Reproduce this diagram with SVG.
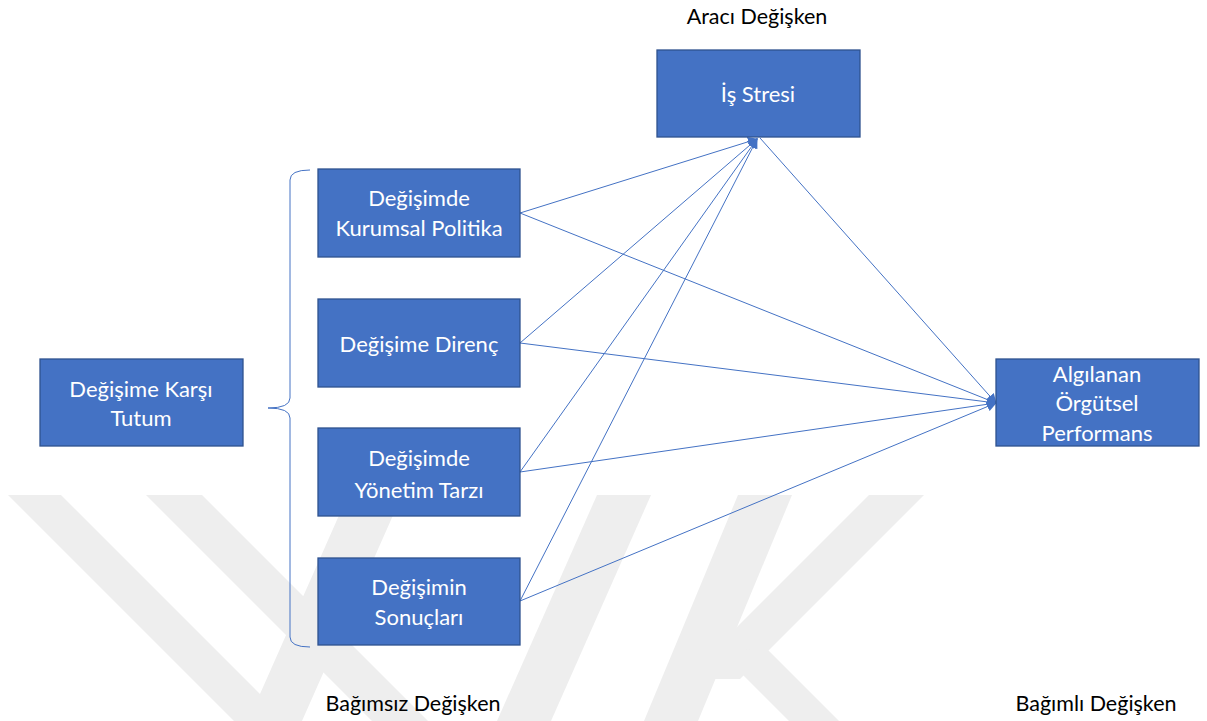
<svg xmlns="http://www.w3.org/2000/svg" width="1207" height="721" viewBox="0 0 1207 721">
<style>
.box{fill:#4472C4;stroke:#2F528F;stroke-width:1.3}
.bt{font-family:Lato,"Liberation Sans",sans-serif;font-size:22px;fill:#ffffff;text-anchor:middle}
.lbl{font-family:Lato,"Liberation Sans",sans-serif;font-size:21.5px;fill:#000000;text-anchor:middle}
.con{stroke:#4472C4;stroke-width:1;fill:none}
.wm{fill:#eeeeee}
</style>
<defs>
<marker id="ah" markerUnits="userSpaceOnUse" markerWidth="10" markerHeight="10" viewBox="0 0 10 10" refX="9" refY="5" orient="auto">
<path d="M0,0 L10,5 L0,10 z" fill="#4472C4"/>
</marker>
</defs>
<rect width="1207" height="721" fill="#ffffff"/>
<g id="watermark">
<polygon class="wm" points="8,495 61,495 260,694 348,495 402,495 302,721 234,721"/>
<polygon class="wm" points="146,495 202,495 428,721 372,721"/>
<polygon class="wm" points="597,495 651,495 551,721 497,721"/>
<polygon class="wm" points="738,495 792,495 698,721 644,721"/>
<polygon class="wm" points="869,495 924,495 740,679 685,679"/>
<polygon class="wm" points="768,650 839,721 789,721 716,648"/>
</g>
<g id="connectors">
<line class="con" x1="520" y1="213" x2="757" y2="139" marker-end="url(#ah)"/>
<line class="con" x1="520" y1="343" x2="757" y2="139" marker-end="url(#ah)"/>
<line class="con" x1="520" y1="472" x2="757" y2="139" marker-end="url(#ah)"/>
<line class="con" x1="520" y1="601" x2="757" y2="139" marker-end="url(#ah)"/>
<line class="con" x1="520" y1="213" x2="996" y2="403" marker-end="url(#ah)"/>
<line class="con" x1="520" y1="343" x2="996" y2="403" marker-end="url(#ah)"/>
<line class="con" x1="520" y1="472" x2="996" y2="403" marker-end="url(#ah)"/>
<line class="con" x1="520" y1="601" x2="996" y2="403" marker-end="url(#ah)"/>
<line class="con" x1="760" y1="138" x2="996" y2="403" marker-end="url(#ah)"/>
<path class="con" d="M310,170 Q290,170 290,180 V398 Q290,408 268,408 Q290,408 290,418 V637 Q290,647 310,647" stroke="#6F94D6"/>
</g>
<g id="n-stres">
<rect class="box" x="657" y="50" width="203" height="87"/>
<text class="bt" x="758" y="102">İş Stresi</text>
</g>
<g id="n-kurumsal">
<rect class="box" x="318" y="169" width="202" height="88"/>
<text class="bt" x="419" y="206">Değişimde</text>
<text class="bt" x="419" y="236">Kurumsal Politika</text>
</g>
<g id="n-direnc">
<rect class="box" x="318" y="299" width="202" height="88"/>
<text class="bt" x="419" y="352">Değişime Direnç</text>
</g>
<g id="n-yonetim">
<rect class="box" x="318" y="428" width="202" height="88"/>
<text class="bt" x="419" y="466">Değişimde</text>
<text class="bt" x="419" y="498">Yönetim Tarzı</text>
</g>
<g id="n-sonuc">
<rect class="box" x="318" y="558" width="202" height="87"/>
<text class="bt" x="419" y="595">Değişimin</text>
<text class="bt" x="419" y="625">Sonuçları</text>
</g>
<g id="n-tutum">
<rect class="box" x="40" y="359" width="203" height="87"/>
<text class="bt" x="141" y="397">Değişime Karşı</text>
<text class="bt" x="141" y="426">Tutum</text>
</g>
<g id="n-performans">
<rect class="box" x="996" y="359" width="203" height="87"/>
<text class="bt" x="1097" y="382">Algılanan</text>
<text class="bt" x="1097" y="411">Örgütsel</text>
<text class="bt" x="1097" y="441">Performans</text>
</g>
<g id="labels">
<text class="lbl" x="757" y="24">Aracı Değişken</text>
<text class="lbl" x="413" y="711">Bağımsız Değişken</text>
<text class="lbl" x="1096" y="711">Bağımlı Değişken</text>
</g>
</svg>
